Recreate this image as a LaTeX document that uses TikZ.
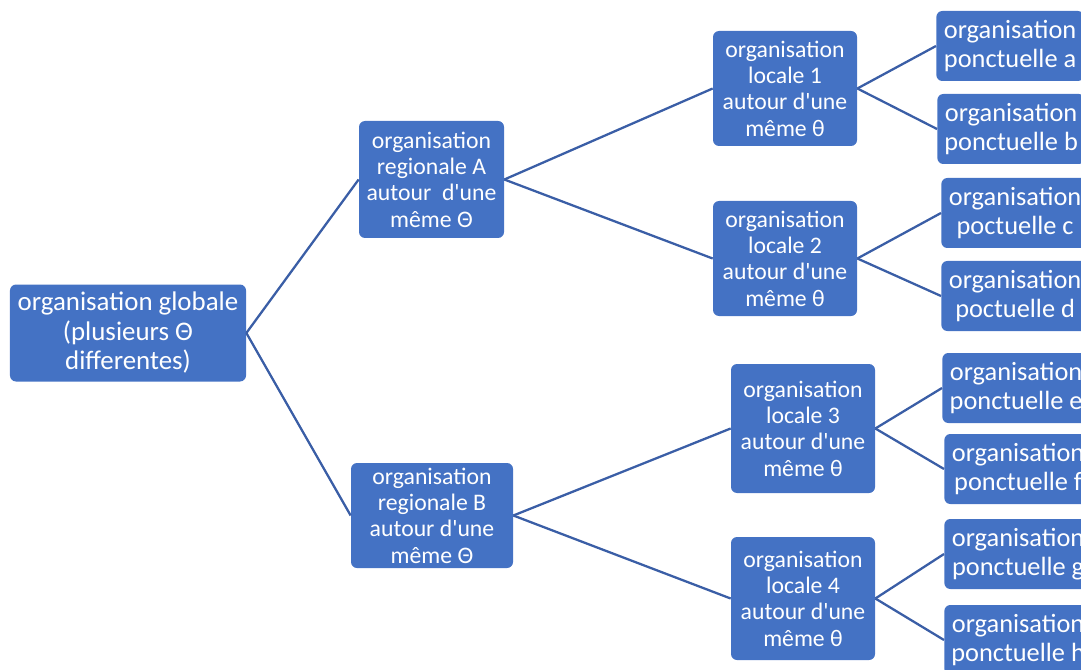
\documentclass[tikz,border=0pt]{standalone}
\usepackage{fontspec}
\setmainfont{Carlito}[Ligatures=TeXOff]
\usepackage{xcolor}
\usepackage{tikz}
\definecolor{boxblue}{HTML}{4472C4}
\definecolor{lineblue}{HTML}{3A5EA6}
\tikzstyle{org} = [fill=boxblue, text=white, rectangle, rounded corners=0.12cm,
align=center, inner sep=0pt, font=\fontsize{13.5}{15}\selectfont]
\tikzstyle{globbox} = [org, font=\fontsize{15.3}{16.8}\selectfont]
\tikzstyle{leafbox} = [org, anchor=west, minimum width=2.95cm, minimum height=1.4cm,
font=\fontsize{15}{16.6}\selectfont]
\tikzstyle{link} = [draw=lineblue, line width=1.3pt]

\begin{document}
\begin{tikzpicture}
	\useasboundingbox (0,0) rectangle (21.62,-13.4);
	\clip (0,0) rectangle (21.62,-13.4);
	% We start by placing the blocks
	\node [globbox, minimum width=4.72cm, minimum height=1.94cm] (glob) at (2.56,-6.66)
	{organisation globale\\(plusieurs Θ\\differentes)};
	\node [org, minimum width=2.9cm, minimum height=2.34cm] (regA) at (8.63,-3.59)
	{organisation\\regionale A\\autour~~d'une\\même Θ};
	\node [org, minimum width=3.24cm, minimum height=2.1cm] (regB) at (8.64,-10.31)
	{organisation\\regionale B\\autour d'une\\même Θ};
	% the local ones
	\node [org, minimum width=2.88cm, minimum height=2.3cm] (loc1) at (15.7,-1.77)
	{organisation\\locale 1\\autour d'une\\même θ};
	\node [org, minimum width=2.88cm, minimum height=2.3cm] (loc2) at (15.7,-5.17)
	{organisation\\locale 2\\autour d'une\\même θ};
	\node [org, minimum width=2.88cm, minimum height=2.58cm] (loc3) at (16.06,-8.57)
	{organisation\\locale 3\\autour d'une\\même θ};
	\node [org, minimum width=2.88cm, minimum height=2.46cm] (loc4) at (16.06,-11.97)
	{organisation\\locale 4\\autour d'une\\même θ};
	% the leaves run off the right edge
	\node [leafbox] (ptA) at (18.72,-0.92) {organisation\\ponctuelle a};
	\node [leafbox] (ptB) at (18.74,-2.58) {organisation\\ponctuelle b};
	\node [leafbox] (ptC) at (18.82,-4.26) {organisation\\poctuelle c};
	\node [leafbox] (ptD) at (18.82,-5.92) {organisation\\poctuelle d};
	\node [leafbox] (ptE) at (18.84,-7.76) {organisation\\ponctuelle e};
	\node [leafbox] (ptF) at (18.88,-9.38) {organisation\\ponctuelle f};
	\node [leafbox] (ptG) at (18.88,-11.08) {organisation\\ponctuelle g};
	\node [leafbox] (ptH) at (18.88,-12.8) {organisation\\ponctuelle h};
	
	% Once the nodes are placed, connecting them is easy.
	\draw [link] (glob.east) -- (regA.west);
	\draw [link] (glob.east) -- (regB.west);
	\draw [link] (regA.east) -- (loc1.west);
	\draw [link] (regA.east) -- (loc2.west);
	\draw [link] (regB.east) -- (loc3.west);
	\draw [link] (regB.east) -- (loc4.west);
	\draw [link] (loc1.east) -- (ptA.west);
	\draw [link] (loc1.east) -- (ptB.west);
	\draw [link] (loc2.east) -- (ptC.west);
	\draw [link] (loc2.east) -- (ptD.west);
	\draw [link] (loc3.east) -- (ptE.west);
	\draw [link] (loc3.east) -- (ptF.west);
	\draw [link] (loc4.east) -- (ptG.west);
	\draw [link] (loc4.east) -- (ptH.west);
\end{tikzpicture}
\end{document}
